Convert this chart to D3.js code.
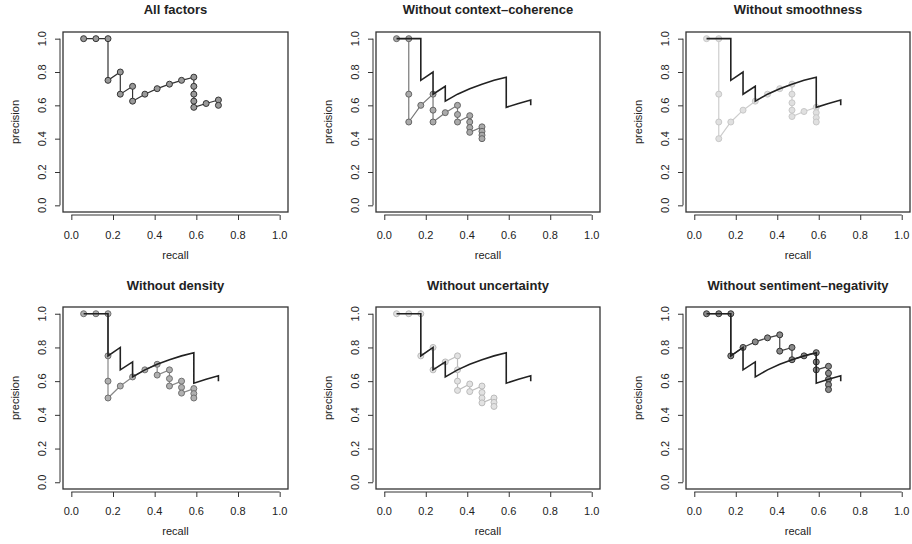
<!DOCTYPE html>
<html>
<head>
<meta charset="utf-8">
<script src="https://cdn.jsdelivr.net/npm/d3@7"></script>
<style>
  body { margin: 0; background: #fff; }
  text { font-family: "Liberation Sans", Arial, sans-serif; fill: #222; }
</style>
</head>
<body>
<div id="content"></div>
<script>
const W = 912;
const H = 544;

// recall / precision at each rank
const allRecall = [0.059,0.118,0.176,0.176,0.235,0.235,0.294,0.294,0.353,0.412,0.471,0.529,0.588,0.588,0.588,0.588,0.588,0.647,0.706,0.706];
const allPrecision = [1,1,1,0.75,0.8,0.667,0.714,0.625,0.667,0.7,0.727,0.75,0.769,0.714,0.667,0.625,0.588,0.611,0.632,0.6];

const ctxRecall = [0.059,0.118,0.118,0.118,0.176,0.235,0.235,0.235,0.294,0.353,0.353,0.353,0.412,0.412,0.412,0.412,0.471,0.471,0.471,0.471];
const ctxPrecision = [1,1,0.667,0.5,0.6,0.667,0.571,0.5,0.556,0.6,0.545,0.5,0.538,0.5,0.467,0.438,0.471,0.444,0.421,0.4];

const smoothRecall = [0.059,0.118,0.118,0.118,0.118,0.176,0.235,0.294,0.353,0.412,0.471,0.471,0.471,0.471,0.471,0.529,0.588,0.588,0.588,0.588];
const smoothPrecision = [1,1,0.667,0.5,0.4,0.5,0.571,0.625,0.667,0.7,0.727,0.667,0.615,0.571,0.533,0.563,0.588,0.556,0.526,0.5];

const densRecall = [0.059,0.118,0.176,0.176,0.176,0.176,0.235,0.294,0.353,0.412,0.412,0.471,0.471,0.471,0.529,0.529,0.529,0.588,0.588,0.588];
const densPrecision = [1,1,1,0.75,0.6,0.5,0.571,0.625,0.667,0.7,0.636,0.667,0.615,0.571,0.6,0.563,0.529,0.556,0.526,0.5];

const uncRecall = [0.059,0.118,0.176,0.176,0.235,0.235,0.294,0.353,0.353,0.353,0.353,0.412,0.412,0.471,0.471,0.471,0.471,0.529,0.529,0.529];
const uncPrecision = [1,1,1,0.75,0.8,0.667,0.714,0.75,0.667,0.6,0.545,0.583,0.538,0.571,0.533,0.5,0.471,0.5,0.474,0.45];

const sentRecall = [0.059,0.118,0.176,0.176,0.235,0.294,0.353,0.412,0.412,0.471,0.471,0.529,0.588,0.588,0.588,0.647,0.647,0.647,0.647,0.647];
const sentPrecision = [1,1,1,0.75,0.8,0.833,0.857,0.875,0.778,0.8,0.727,0.75,0.769,0.714,0.667,0.688,0.647,0.611,0.579,0.55];

const titles = ["All factors", "Without context\u2013coherence", "Without smoothness",
                "Without density", "Without uncertainty", "Without sentiment\u2013negativity"];
const xTicks = [0, 0.2, 0.4, 0.6, 0.8, 1.0];
const yTicks = [0, 0.2, 0.4, 0.6, 0.8, 1.0];

const zip = (r, p) => r.map((v, i) => ({ r: v, p: p[i] }));

const panels = [
  { title: titles[0], pts: zip(allRecall, allPrecision), stroke: "#333", fill: "#999", line: "#333", ref: false },
  { title: titles[1], pts: zip(ctxRecall, ctxPrecision), stroke: "#666", fill: "#aaa", line: "#777", ref: true },
  { title: titles[2], pts: zip(smoothRecall, smoothPrecision), stroke: "#c8c8c8", fill: "#e0e0e0", line: "#cdcdcd", ref: true },
  { title: titles[3], pts: zip(densRecall, densPrecision), stroke: "#707070", fill: "#b0b0b0", line: "#888", ref: true },
  { title: titles[4], pts: zip(uncRecall, uncPrecision), stroke: "#bbb", fill: "#e2e2e2", line: "#bdbdbd", ref: true },
  { title: titles[5], pts: zip(sentRecall, sentPrecision), stroke: "#333", fill: "#8a8a8a", line: "#444", ref: true }
];
const refPts = zip(allRecall, allPrecision);

// box positions per column / row
const cols = [[63, 288], [376, 600], [686, 910]];
const rows = [
  { top: 32, bottom: 212, title: 14, xlab: 238.5, xtitle: 259 },
  { top: 307, bottom: 489, title: 290, xlab: 515, xtitle: 535 }
];

const svg = d3.select("#content").append("svg")
  .attr("width", W).attr("height", H);
svg.append("rect").attr("width", W).attr("height", H).attr("fill", "white");

panels.forEach((pn, i) => {
  const [L, R] = cols[i % 3];
  const row = rows[Math.floor(i / 3)];
  const x = d3.scaleLinear().domain([-0.04, 1.04]).range([L, R]);
  const y = d3.scaleLinear().domain([-0.04, 1.04]).range([row.bottom, row.top]);
  const g = svg.append("g");

  // box
  g.append("rect")
    .attr("x", L).attr("y", row.top)
    .attr("width", R - L).attr("height", row.bottom - row.top)
    .attr("fill", "none").attr("stroke", "#333").attr("stroke-width", 1.3);

  // x axis (offset a bit below the box, like R)
  const xa = g.append("g").attr("transform", `translate(0,${row.bottom + 3})`)
    .call(d3.axisBottom(x).tickValues(xTicks).tickSize(5).tickSizeOuter(0).tickFormat(""));
  xa.select(".domain").remove();
  xa.selectAll(".tick line").attr("stroke", "#333");
  xa.append("line").attr("x1", x(0)).attr("x2", x(1)).attr("stroke", "#333");
  g.selectAll(null).data(xTicks).join("text")
    .attr("x", d => x(d)).attr("y", row.xlab)
    .attr("text-anchor", "middle").attr("font-size", 11)
    .text(d => d.toFixed(1));
  g.append("text").attr("x", (L + R) / 2).attr("y", row.xtitle)
    .attr("text-anchor", "middle").attr("font-size", 11).text("recall");

  // y axis
  const ya = g.append("g").attr("transform", `translate(${L - 3},0)`)
    .call(d3.axisLeft(y).tickValues(yTicks).tickSize(5).tickSizeOuter(0).tickFormat(""));
  ya.select(".domain").remove();
  ya.selectAll(".tick line").attr("stroke", "#333");
  ya.append("line").attr("y1", y(0)).attr("y2", y(1)).attr("stroke", "#333");
  g.selectAll(null).data(yTicks).join("text")
    .attr("transform", d => `translate(${L - 21},${y(d)}) rotate(-90)`)
    .attr("dy", "0.35em")
    .attr("text-anchor", "middle").attr("font-size", 11)
    .text(d => d.toFixed(1));
  g.append("text")
    .attr("transform", `translate(${L - 48},${(row.top + row.bottom) / 2}) rotate(-90)`)
    .attr("dy", "0.35em")
    .attr("text-anchor", "middle").attr("font-size", 11).text("precision");

  // title
  g.append("text").attr("x", (L + R) / 2).attr("y", row.title)
    .attr("text-anchor", "middle").attr("font-size", 13).attr("font-weight", "bold")
    .text(pn.title);

  const line = d3.line().x(d => x(d.r)).y(d => y(d.p));

  g.append("path").datum(pn.pts)
    .attr("d", line).attr("fill", "none")
    .attr("stroke", pn.line).attr("stroke-width", 1.2);

  g.selectAll(null).data(pn.pts).join("circle")
    .attr("cx", d => x(d.r)).attr("cy", d => y(d.p)).attr("r", 3)
    .attr("fill", pn.fill).attr("stroke", pn.stroke).attr("stroke-width", 1);

  if (pn.ref) {
    g.append("path").datum(refPts)
      .attr("d", line).attr("fill", "none")
      .attr("stroke", "#222").attr("stroke-width", 1.6);
  }
});
</script>
</body>
</html>
